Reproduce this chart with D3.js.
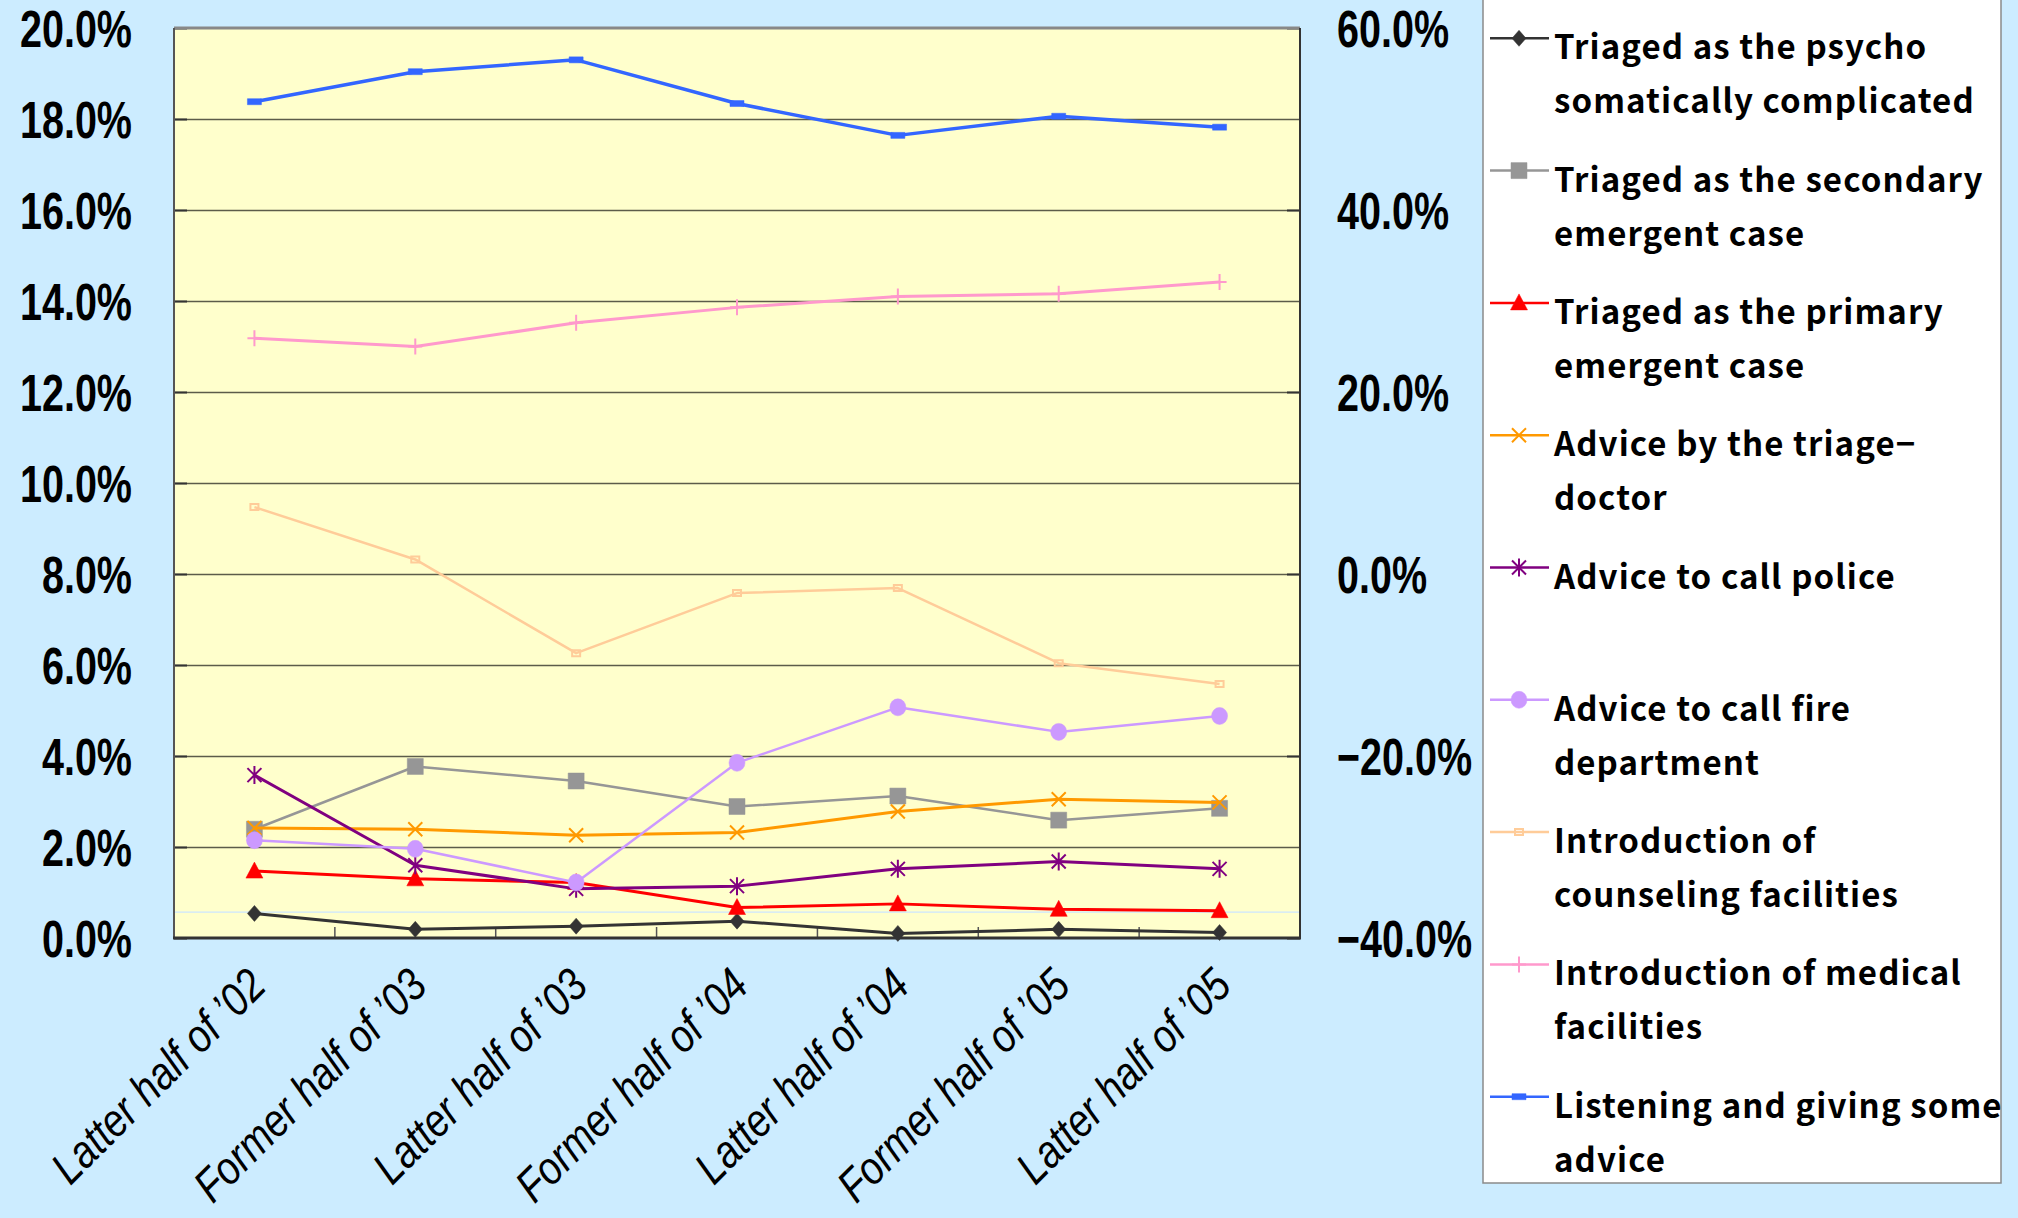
<!DOCTYPE html>
<html>
<head>
<meta charset="utf-8">
<script src="https://cdn.jsdelivr.net/npm/d3@7"></script>
<style>
  body { margin: 0; background: #ccecff; }
  svg { display: block; }
</style>
</head>
<body>
<svg id="chart" width="2018" height="1218"></svg>
<script>
// categories (half-year periods)
const categories = [
  "Latter half of \u201902", "Former half of \u201903", "Latter half of \u201903",
  "Former half of \u201904", "Latter half of \u201904", "Former half of \u201905",
  "Latter half of \u201905"
];

// left axis series (%)
const psycho = [0.54, 0.19, 0.26, 0.37, 0.10, 0.19, 0.12];
const secondary = [2.39, 3.77, 3.45, 2.89, 3.12, 2.59, 2.85];
const primary = [1.47, 1.30, 1.22, 0.67, 0.75, 0.63, 0.60];
const triageDoctor = [2.42, 2.39, 2.26, 2.32, 2.78, 3.05, 2.98];
const police = [3.58, 1.60, 1.08, 1.14, 1.52, 1.68, 1.52];
const fire = [2.15, 1.96, 1.22, 3.85, 5.07, 4.53, 4.88];
const counseling = [9.47, 8.32, 6.26, 7.58, 7.69, 6.04, 5.58];

// right axis series (%)
const medical = [25.9, 25.0, 27.6, 29.3, 30.5, 30.8, 32.1];
const listening = [51.9, 55.2, 56.5, 51.7, 48.2, 50.3, 49.1];

// tick labels
const leftTicks = [0, 2, 4, 6, 8, 10, 12, 14, 16, 18, 20];
const rightTicks = [-40, -20, 0, 20, 40, 60];

const series = [
  { label: ["Triaged as the psycho", "somatically complicated"], values: psycho, axis: "left", color: "#333333", marker: "diamond", width: 3 },
  { label: ["Triaged as the secondary", "emergent case"], values: secondary, axis: "left", color: "#969696", marker: "square", width: 2.5 },
  { label: ["Triaged as the primary", "emergent case"], values: primary, axis: "left", color: "#ff0000", marker: "triangle", width: 3 },
  { label: ["Advice by the triage\u2212", "doctor"], values: triageDoctor, axis: "left", color: "#ff9900", marker: "x", width: 3 },
  { label: ["Advice to call police"], values: police, axis: "left", color: "#800080", marker: "asterisk", width: 3 },
  { label: ["Advice to call fire", "department"], values: fire, axis: "left", color: "#cc99ff", marker: "circle", width: 2.5 },
  { label: ["Introduction of", "counseling facilities"], values: counseling, axis: "left", color: "#ffcc99", marker: "hollow", width: 2.5 },
  { label: ["Introduction of medical", "facilities"], values: medical, axis: "right", color: "#ff99cc", marker: "plus", width: 3 },
  { label: ["Listening and giving some", "advice"], values: listening, axis: "right", color: "#3366ff", marker: "dash", width: 3.5 }
];

const svg = d3.select("#chart");
const plot = { left: 174, right: 1300, top: 28, bottom: 938 };

const x = d3.scaleBand().domain(categories).range([plot.left, plot.right]);
const cx = (d) => x(d) + x.bandwidth() / 2;
const yLeft = d3.scaleLinear().domain([0, 20]).range([plot.bottom, plot.top]);
const yRight = d3.scaleLinear().domain([-40, 60]).range([plot.bottom, plot.top]);

// plot background
svg.append("rect")
  .attr("x", plot.left).attr("y", plot.top)
  .attr("width", plot.right - plot.left).attr("height", plot.bottom - plot.top)
  .attr("fill", "#ffffcc");

// gridlines
svg.append("g")
  .attr("transform", `translate(${plot.left},0)`)
  .call(d3.axisLeft(yLeft).tickValues(leftTicks.slice(1, -1)).tickSize(-(plot.right - plot.left)).tickFormat(""))
  .call((g) => g.select(".domain").remove())
  .selectAll("line").attr("stroke", "#5c5c4a").attr("stroke-width", 1.5);

// faint line near the bottom
svg.append("line")
  .attr("x1", plot.left).attr("x2", plot.right)
  .attr("y1", yLeft(0.57)).attr("y2", yLeft(0.57))
  .attr("stroke", "#cce6ff").attr("stroke-width", 1.2);

// inner tick marks
svg.append("g")
  .attr("transform", `translate(${plot.left},0)`)
  .call(d3.axisLeft(yLeft).tickValues(leftTicks).tickSize(-13).tickFormat(""))
  .call((g) => g.select(".domain").remove())
  .selectAll("line").attr("stroke", "#333").attr("stroke-width", 2);

svg.append("g")
  .attr("transform", `translate(${plot.right},0)`)
  .call(d3.axisRight(yRight).tickValues(rightTicks).tickSize(-13).tickFormat(""))
  .call((g) => g.select(".domain").remove())
  .selectAll("line").attr("stroke", "#333").attr("stroke-width", 2);

svg.selectAll(".xtick")
  .data(categories.slice(1))
  .join("line")
  .attr("class", "xtick")
  .attr("x1", (d) => x(d)).attr("x2", (d) => x(d))
  .attr("y1", plot.bottom).attr("y2", plot.bottom - 11)
  .attr("stroke", "#555").attr("stroke-width", 1.5);

// plot border
svg.append("line").attr("x1", plot.left).attr("x2", plot.right).attr("y1", plot.top).attr("y2", plot.top)
  .attr("stroke", "#888").attr("stroke-width", 3);
svg.append("line").attr("x1", plot.left).attr("x2", plot.left).attr("y1", plot.top).attr("y2", plot.bottom)
  .attr("stroke", "#555").attr("stroke-width", 2);
svg.append("line").attr("x1", plot.right).attr("x2", plot.right).attr("y1", plot.top).attr("y2", plot.bottom)
  .attr("stroke", "#333").attr("stroke-width", 2);
svg.append("line").attr("x1", plot.left - 1).attr("x2", plot.right + 1).attr("y1", plot.bottom).attr("y2", plot.bottom)
  .attr("stroke", "#333").attr("stroke-width", 3);

// marker shapes
function markerPath(type) {
  switch (type) {
    case "diamond": return "M0,-8L7,0L0,8L-7,0Z";
    case "square": return "M-8,-8H8V8H-8Z";
    case "triangle": return "M0,-9L8.5,7L-8.5,7Z";
    case "x": return "M-7,-7L7,7M-7,7L7,-7";
    case "asterisk": return "M-7,-7L7,7M-7,7L7,-7M0,-9V9";
    case "circle": return "M-8,0A8,8.5 0 1,0 8,0A8,8.5 0 1,0 -8,0Z";
    case "hollow": return "M-4,-3H4V3H-4Z";
    case "plus": return "M-7,0H7M0,-8V8";
    case "dash": return "M-7,-3H7V3H-7Z";
  }
}
const filled = new Set(["diamond", "square", "triangle", "circle", "dash"]);

function drawMarker(sel, s) {
  sel.attr("d", markerPath(s.marker))
    .attr("fill", filled.has(s.marker) ? s.color : "none")
    .attr("stroke", s.color)
    .attr("stroke-width", filled.has(s.marker) ? 0.5 : 2);
}

// series lines and markers
series.forEach((s) => {
  const y = s.axis === "left" ? yLeft : yRight;
  const line = d3.line()
    .x((d, i) => cx(categories[i]))
    .y((d) => y(d));
  const g = svg.append("g");
  g.append("path")
    .datum(s.values)
    .attr("d", line)
    .attr("fill", "none")
    .attr("stroke", s.color)
    .attr("stroke-width", s.width)
    .attr("stroke-linejoin", "round");
  g.selectAll("path.mk")
    .data(s.values)
    .join("path")
    .attr("class", "mk")
    .attr("transform", (d, i) => `translate(${cx(categories[i])},${y(d)})`)
    .call(drawMarker, s);
});

// axis labels
const fmtLeft = (d) => d.toFixed(1) + "%";
const fmtRight = (d) => (d < 0 ? "\u2212" + Math.abs(d).toFixed(1) : d.toFixed(1)) + "%";

function styleAxisText(g, anchor) {
  g.select(".domain").remove();
  g.selectAll("line").remove();
  g.selectAll("text")
    .attr("x", 0)
    .attr("dy", "0.36em")
    .attr("text-anchor", anchor)
    .attr("transform", "scale(0.76,1)")
    .attr("fill", "#000")
    .style("font-family", "'Liberation Sans', Arial, sans-serif")
    .style("font-weight", "bold")
    .style("font-size", "52px");
}

svg.append("g")
  .attr("transform", "translate(132,0)")
  .call(d3.axisLeft(yLeft).tickValues(leftTicks).tickSize(0).tickPadding(0).tickFormat(fmtLeft))
  .call(styleAxisText, "end");

svg.append("g")
  .attr("transform", "translate(1337,0)")
  .call(d3.axisRight(yRight).tickValues(rightTicks).tickSize(0).tickPadding(0).tickFormat(fmtRight))
  .call(styleAxisText, "start");

// category labels, rotated
svg.append("g")
  .attr("transform", `translate(0,${plot.bottom})`)
  .call(d3.axisBottom(x).tickSize(0))
  .call((g) => g.select(".domain").remove())
  .selectAll("text")
  .attr("x", 0).attr("y", 0).attr("dy", 0)
  .attr("text-anchor", "end")
  .attr("transform", "translate(14,50) rotate(-45) scale(0.85,1)")
  .attr("fill", "#000")
  .style("font-family", "'Liberation Sans', Arial, sans-serif")
  .style("font-style", "italic")
  .style("font-size", "46px");

// legend
const legend = { left: 1483, right: 2001, top: -4, bottom: 1183, first: 38.3, step: 132.3 };
svg.append("rect")
  .attr("x", legend.left).attr("y", legend.top)
  .attr("width", legend.right - legend.left).attr("height", legend.bottom - legend.top)
  .attr("fill", "#fff").attr("stroke", "#8a8a8a").attr("stroke-width", 1.5);

const items = svg.selectAll(".legend-item")
  .data(series)
  .join("g")
  .attr("class", "legend-item")
  .attr("transform", (d, i) => `translate(0,${legend.first + i * legend.step})`);

items.append("line")
  .attr("x1", 1490).attr("x2", 1549)
  .attr("stroke", (d) => d.color).attr("stroke-width", 2.5);

items.append("path")
  .attr("transform", "translate(1519,0)")
  .each(function (d) { d3.select(this).call(drawMarker, d); });

items.append("text")
  .attr("x", 1554)
  .attr("fill", "#000")
  .style("font-family", "'Noto Sans CJK JP', sans-serif")
  .style("font-weight", "bold")
  .style("font-size", "33px")
  .style("letter-spacing", "1.1px")
  .selectAll("tspan")
  .data((d) => d.label)
  .join("tspan")
  .attr("x", 1554)
  .attr("y", (d, i) => 21 + i * 54)
  .text((d) => d);
</script>
</body>
</html>
